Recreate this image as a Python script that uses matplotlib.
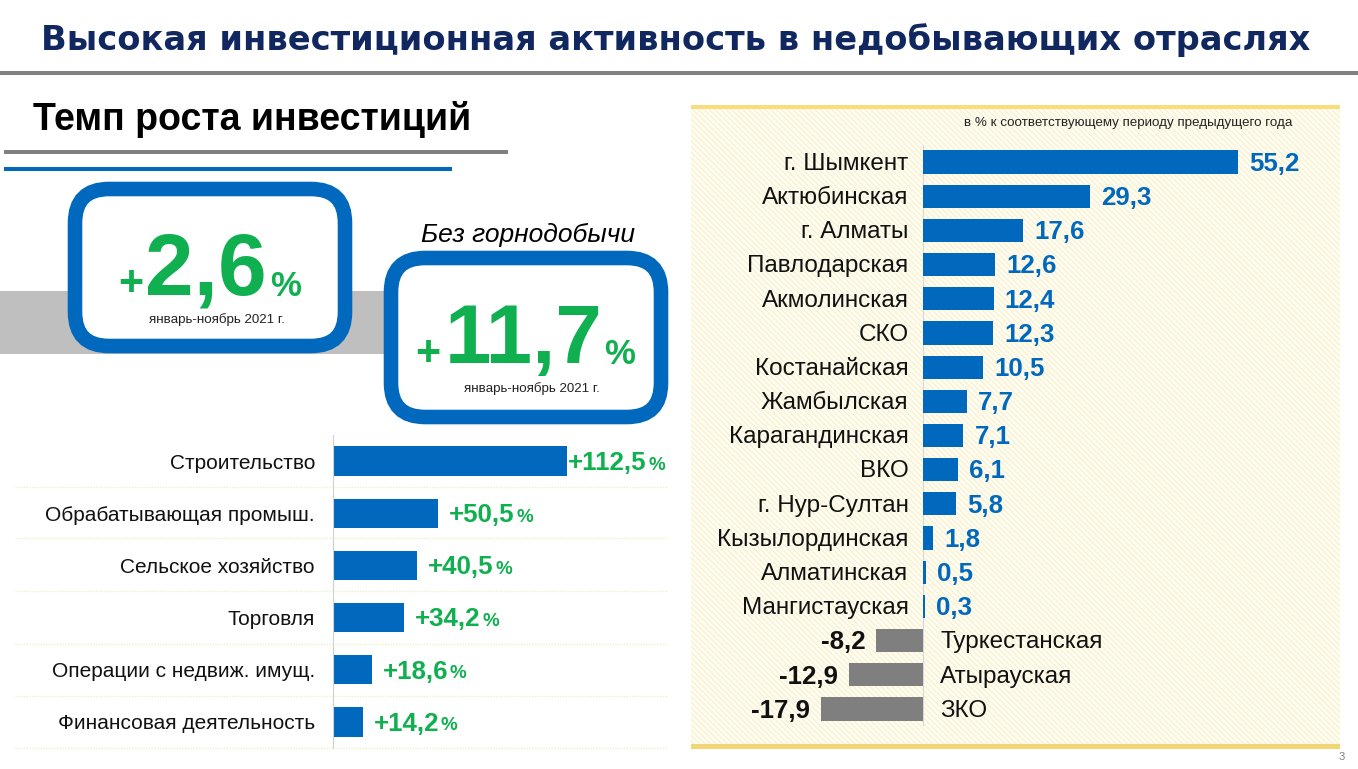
import matplotlib
matplotlib.use("Agg")
import matplotlib.pyplot as plt
from matplotlib.patches import Rectangle, FancyBboxPatch

plt.rcParams['font.family'] = ['Liberation Sans', 'DejaVu Sans']
plt.rcParams['hatch.linewidth'] = 0.8

title = "Высокая инвестиционная активность в недобывающих отраслях"
subtitle = "Темп роста инвестиций"
note = "в % к соответствующему периоду предыдущего года"
period = "январь-ноябрь 2021 г."

sectors = ["Строительство", "Обрабатывающая промыш.", "Сельское хозяйство",
           "Торговля", "Операции с недвиж. имущ.", "Финансовая деятельность"]
sector_values = [112.5, 50.5, 40.5, 34.2, 18.6, 14.2]

regions = ["г. Шымкент", "Актюбинская", "г. Алматы", "Павлодарская", "Акмолинская",
           "СКО", "Костанайская", "Жамбылская", "Карагандинская", "ВКО", "г. Нур-Султан",
           "Кызылординская", "Алматинская", "Мангистауская", "Туркестанская",
           "Атырауская", "ЗКО"]
region_values = [55.2, 29.3, 17.6, 12.6, 12.4, 12.3, 10.5, 7.7, 7.1, 6.1, 5.8,
                 1.8, 0.5, 0.3, -8.2, -12.9, -17.9]

BLUE = "#0069BE"
GREEN = "#10B050"
GRAY = "#7F7F7F"
W, H = 1358, 769
fig = plt.figure(figsize=(W/100, H/100), dpi=100, facecolor="white")

def axes_px(x0, y0, x1, y1, **kw):
    return fig.add_axes([x0/W, 1-y1/H, (x1-x0)/W, (y1-y0)/H], **kw)

bg = axes_px(0, 0, W, H)
bg.set_xlim(0, W); bg.set_ylim(H, 0); bg.axis("off")

bg.text(676, 40, title, ha="center", va="center", fontsize=24.25, fontweight="bold",
        color="#10285F", family="DejaVu Sans")
bg.add_patch(Rectangle((0, 71), 1358, 4, color="#808080", lw=0))
bg.text(33, 119, subtitle, ha="left", va="center", fontsize=27, fontweight="bold", color="black")
bg.add_patch(Rectangle((4, 150), 504, 4, color="#808080", lw=0))
bg.add_patch(Rectangle((4, 167), 448, 4, color=BLUE, lw=0))
bg.add_patch(Rectangle((0, 291), 400, 63, color="#BFBFBF", lw=0))

def card(x0, y0, x1, y1):
    bg.add_patch(FancyBboxPatch((x0, y0), x1-x0, y1-y0, boxstyle="round,pad=0,rounding_size=34",
                                fc="white", ec=BLUE, lw=10.5, mutation_aspect=1))

card(75, 189, 345, 346)
card(391, 258, 661, 417)
bg.text(118, 284, "+", color=GREEN, fontsize=31, fontweight="bold", ha="left", va="center")
bg.text(145, 272, "2,6", color=GREEN, fontsize=63, fontweight="bold", ha="left", va="center")
bg.text(270, 286, "%", color=GREEN, fontsize=25, fontweight="bold", ha="left", va="center")
bg.text(217, 320, period, color="#222222", fontsize=9.6, ha="center", va="center")
bg.text(528, 235, "Без горнодобычи", color="black", fontsize=19, style="italic", ha="center", va="center")
bg.text(415, 354, "+", color=GREEN, fontsize=31, fontweight="bold", ha="left", va="center")
bg.text(445, 341, "11,7", color=GREEN, fontsize=60, fontweight="bold", ha="left", va="center")
bg.text(604, 355, "%", color=GREEN, fontsize=25, fontweight="bold", ha="left", va="center")
bg.text(532, 389, period, color="#222222", fontsize=9.6, ha="center", va="center")

# panel
bg.add_patch(Rectangle((691, 106), 649, 642, fc="#FFFDF2", ec="#F8F0CC", hatch="\\\\\\\\\\\\", lw=0))
bg.add_patch(Rectangle((691, 105), 649, 4, color="#F9DC7C", lw=0))
bg.add_patch(Rectangle((691, 744), 649, 5, color="#F2D675", lw=0))
bg.text(1128, 123, note, color="#222222", fontsize=9.6, ha="center", va="center")
bg.text(1342, 757, "3", color="#808080", fontsize=8, ha="center", va="center")

# sector separators
for y in [487, 538, 591, 644, 696, 748]:
    bg.plot([15, 668], [y, y], color="#EDF2C4", lw=1, ls=(0, (1, 1)))

# left bars
ax = axes_px(333, 435, 333+2.08*160, 748)
ax.patch.set_alpha(0)
ax.set_xlim(0, 160); ax.set_ylim(5.5, -0.5)
ax.barh(range(len(sectors)), sector_values, height=0.56, color=BLUE)
ax.set_yticks(range(len(sectors)), sectors, fontsize=15, color="#111111", va="center_baseline")
ax.tick_params(axis="y", length=0, pad=13)
ax.set_xticks([])
for s in ["top", "right", "bottom"]:
    ax.spines[s].set_visible(False)
ax.spines["left"].set_color("#D0D0D0")
offsets = [1, 11, 11, 11, 11, 11]
pct_gap = [81, 67, 67, 67, 67, 67]
for i, v in enumerate(sector_values):
    txt = f"+{v:.1f}".replace(".", ",")
    ax.annotate(txt, (v, i), xytext=(offsets[i]*0.72, 0.5), textcoords="offset points",
                color=GREEN, fontsize=18.6, fontweight="bold", ha="left", va="center_baseline")
    ax.annotate("%", (v, i), xytext=((offsets[i]+pct_gap[i])*0.72, -1.5), textcoords="offset points",
                color=GREEN, fontsize=13.5, fontweight="bold", ha="left", va="center_baseline")

# right bars
rx = axes_px(923-20*5.7, 145, 923+60*5.7, 726)
rx.patch.set_alpha(0)
rx.set_xlim(-20, 60); rx.set_ylim(16.5, -0.5)
colors = [BLUE if v >= 0 else GRAY for v in region_values]
rx.barh(range(len(regions)), region_values, height=0.68, color=colors)
rx.axvline(0, color="#D8D8D8", lw=0.8, zorder=0)
rx.axis("off")
for i, (name, v) in enumerate(zip(regions, region_values)):
    txt = f"{abs(v):.1f}".replace(".", ",")
    if v >= 0:
        rx.annotate(name, (0, i), xytext=(-10.5, 0.5), textcoords="offset points", ha="right",
                    va="center_baseline", fontsize=17.5, color="#111111")
        rx.annotate(txt, (v, i), xytext=(8, 0.5), textcoords="offset points", ha="left",
                    va="center_baseline", fontsize=18.6, fontweight="bold", color=BLUE)
    else:
        rx.annotate(name, (0, i), xytext=(12.5, 0.5), textcoords="offset points", ha="left",
                    va="center_baseline", fontsize=17.5, color="#111111")
        rx.annotate("-"+txt, (v, i), xytext=(-8, 0.5), textcoords="offset points", ha="right",
                    va="center_baseline", fontsize=18.6, fontweight="bold", color="#111111")

fig.savefig("out.png", dpi=100)
